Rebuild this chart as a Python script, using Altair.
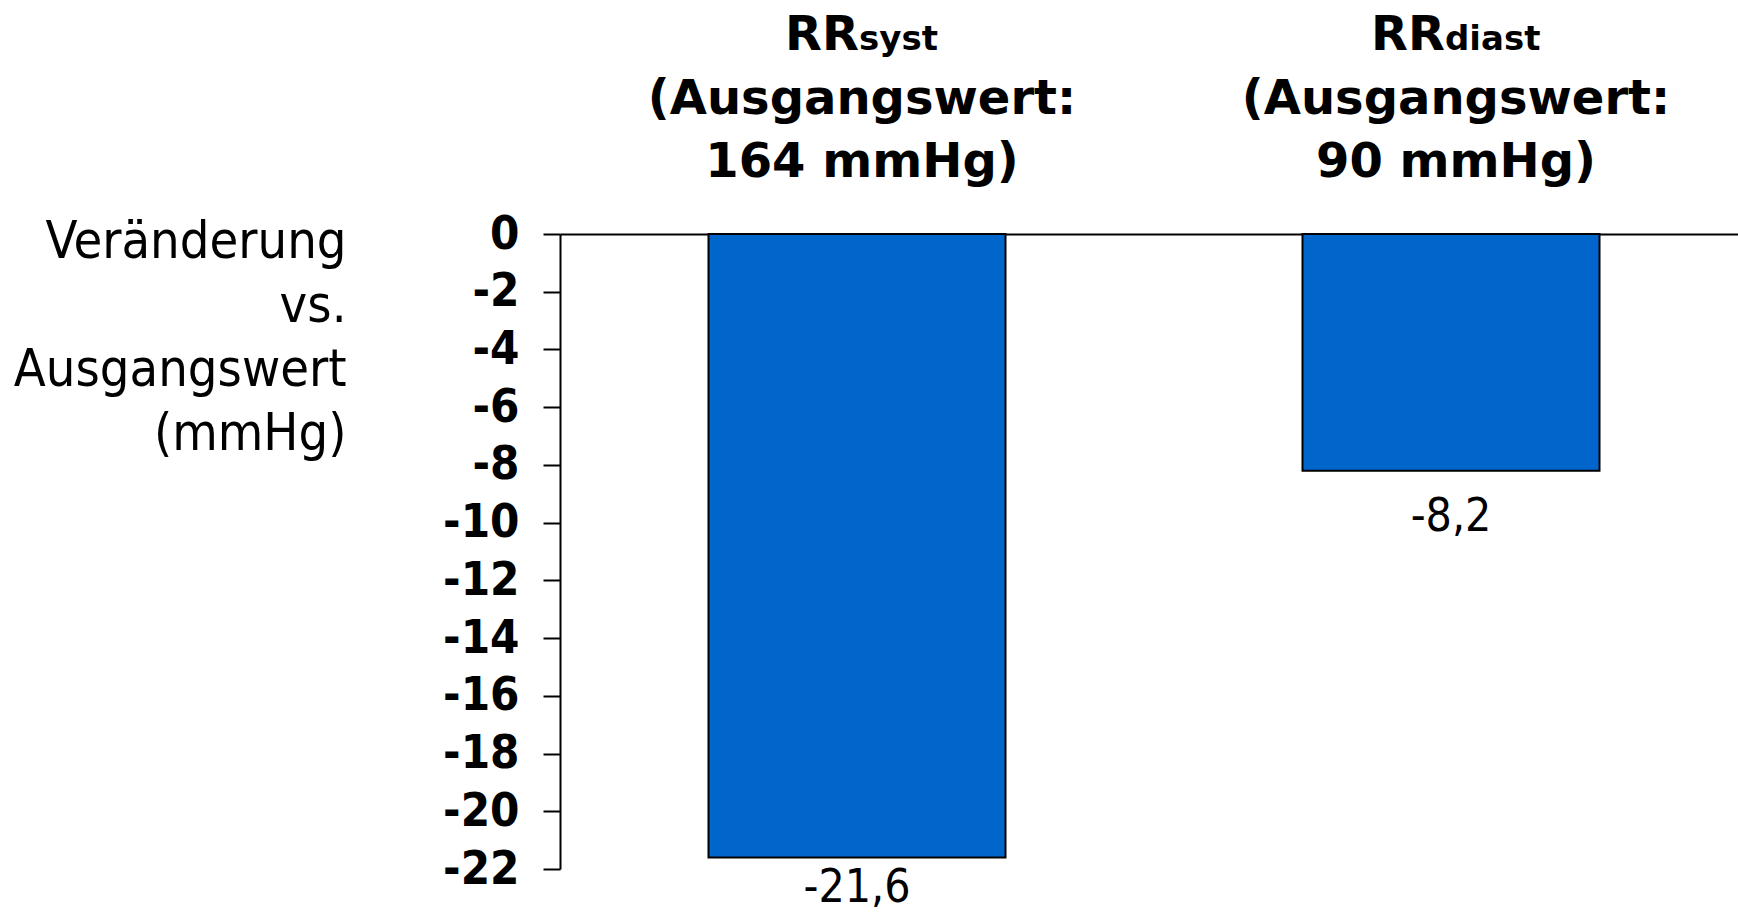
import altair as alt
import pandas as pd

# ---- data ----
categories = ["RRsyst", "RRdiast"]
subscripts = ["syst", "diast"]
values = [-21.6, -8.2]
line2 = ["(Ausgangswert:", "(Ausgangswert:"]
line3 = ["164 mmHg)", "90 mmHg)"]
y_ticks = [0, -2, -4, -6, -8, -10, -12, -14, -16, -18, -20, -22]
y_title = ["Veränderung", "vs.", "Ausgangswert", "(mmHg)"]

df = pd.DataFrame({
    "cat": categories,
    "sub": subscripts,
    "value": values,
    "line2": line2,
    "line3": line3,
})

BLUE = "#0066CC"
COND = "DejaVu Sans Condensed, DejaVu Sans"
BOLD = "DejaVu Sans"

x = alt.X(
    "cat:N",
    sort=categories,
    scale=alt.Scale(range=[0, 1188], paddingInner=0.5, paddingOuter=0.25),
    axis=alt.Axis(orient="top", labels=False, ticks=False, title=None,
                  domainColor="black", domainWidth=2),
)

y = alt.Y(
    "value:Q",
    scale=alt.Scale(domain=[-22, 0], nice=False, zero=True),
    axis=alt.Axis(
        values=y_ticks,
        labelExpr="'' + datum.value",
        labelFont=COND, labelFontWeight="bold", labelFontSize=47,
        labelColor="black", labelPadding=24, labelOverlap=False,
        tickSize=17, tickWidth=2, tickColor="black",
        domainColor="black", domainWidth=2, grid=False,
        title=y_title, titleAngle=0, titleAlign="right",
        titleBaseline="alphabetic", titleX=-214, titleY=23,
        titleFont=COND, titleFontWeight="normal", titleFontSize=52,
        titleLineHeight=64, titleColor="black",
    ),
)

base = alt.Chart(df)

bars = base.mark_bar(color=BLUE, stroke="black", strokeWidth=2).encode(x=x, y=y)

layers = [bars]

rr_dx = [2, -6]
sub_dx = [2, -6]
label_dy = [31, 46]
for i, c in enumerate(categories):
    sel = base.transform_filter(alt.datum.cat == c)
    layers.append(
        sel.mark_text(text="RR", align="right", baseline="alphabetic", dx=rr_dx[i],
                      font=BOLD, fontWeight="bold", fontSize=48, color="black")
        .encode(x=x, y=alt.value(-184))
    )
    layers.append(
        sel.mark_text(align="left", baseline="alphabetic", dx=sub_dx[i],
                      font=BOLD, fontWeight="bold", fontSize=34, color="black")
        .encode(x=x, y=alt.value(-184), text="sub:N")
    )
    layers.append(
        sel.mark_text(align="center", baseline="alphabetic", dx=5,
                      font=BOLD, fontWeight="bold", fontSize=48, color="black")
        .encode(x=x, y=alt.value(-120), text="line2:N")
    )
    layers.append(
        sel.mark_text(align="center", baseline="alphabetic", dx=5,
                      font=BOLD, fontWeight="bold", fontSize=48, color="black")
        .encode(x=x, y=alt.value(-57), text="line3:N")
    )
    layers.append(
        sel.transform_calculate(label="replace(toString(datum.value), '.', ',')")
        .mark_text(align="center", baseline="middle", dy=label_dy[i],
                   font=COND, fontSize=46, color="black")
        .encode(x=x, y=alt.Y("value:Q"), text="label:N")
    )

chart = alt.layer(*layers).properties(
    width=1178,
    height=635,
    autosize=alt.AutoSizeParams(type="none"),
    padding={"left": 560, "top": 234, "right": 0, "bottom": 44},
    background="white",
).configure_view(stroke=None)

chart.save("out.html", embed_options={"renderer": "svg", "actions": False})
